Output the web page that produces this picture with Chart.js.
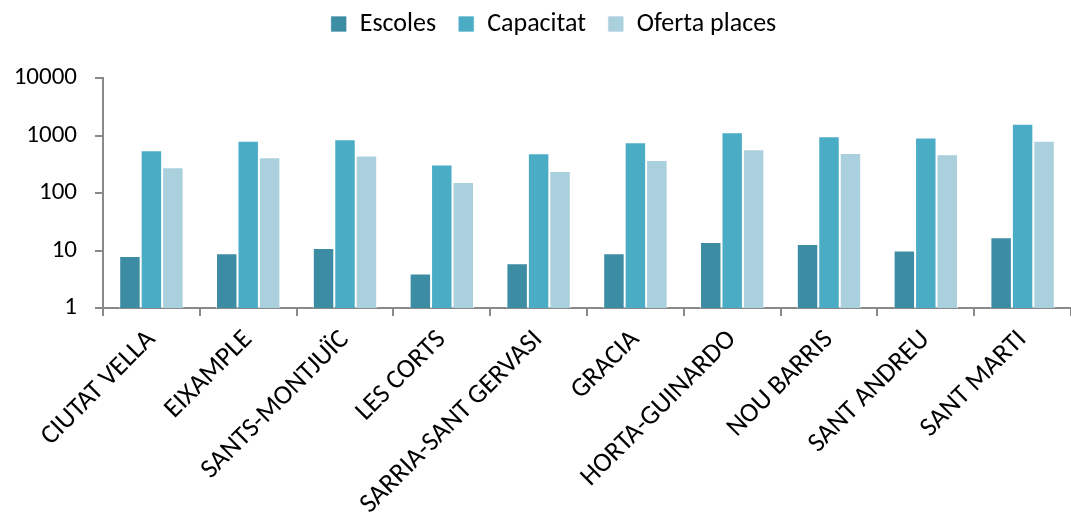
<!DOCTYPE html>
<html>
<head>
<meta charset="utf-8">
<script src="https://cdn.jsdelivr.net/npm/chart.js@4/dist/chart.umd.min.js"></script>
<style>
    html, body { margin: 0; padding: 0; background: #ffffff; overflow: hidden; }
    #wrap { width: 1071px; height: 513px; }
</style>
</head>
<body>
<div id="wrap"><canvas id="chart"></canvas></div>
<script>
// Districts (x axis)
const districts = ["CIUTAT VELLA", "EIXAMPLE", "SANTS-MONTJUÏC", "LES CORTS", "SARRIA-SANT GERVASI",
    "GRACIA", "HORTA-GUINARDO", "NOU BARRIS", "SANT ANDREU", "SANT MARTI"];

// Series values
const escoles = [8, 9, 11, 4, 6, 9, 14, 13, 10, 17];
const capacitat = [555, 807, 864, 312, 492, 766, 1144, 973, 921, 1596];
const ofertaPlaces = [281, 420, 447, 155, 242, 376, 578, 498, 473, 807];

// Log axis ticks
const yTicks = [1, 10, 100, 1000, 10000];

const fontFamily = 'Carlito, Calibri, "Open Sans", sans-serif';
const axisGray = '#898989';

// Fix the legend band height so the plot starts where the reference does
const legendFix = {
    id: 'legendFix',
    beforeLayout(chart) {
        const legend = chart.legend;
        if (legend && !legend._patched) {
            const fit = legend.fit;
            legend.fit = function () {
                fit.call(this);
                this.height = 78;
            };
            legend._patched = true;
        }
    },
    afterLayout(chart) {
        // nudge the legend row up and a bit right
        chart.legend.top -= 11;
        chart.legend.bottom -= 11;
        chart.legend.left += 14;
        chart.legend.right += 14;
    }
};

const data = {
    labels: districts,
    datasets: [
        { label: "Escoles", data: escoles, backgroundColor: "#3c8ca3" },
        { label: "Capacitat", data: capacitat, backgroundColor: "#4bacc6" },
        { label: "Oferta places", data: ofertaPlaces, backgroundColor: "#aacfdd" }
    ].map(d => Object.assign(d, {
        borderColor: "rgba(255,255,255,0.7)",
        borderWidth: 1,
        borderSkipped: "bottom",
        categoryPercentage: 0.665,
        barPercentage: 1.0
    }))
};

new Chart(document.getElementById("chart"), {
    type: "bar",
    data: data,
    plugins: [legendFix],
    options: {
        responsive: true,
        maintainAspectRatio: false,
        animation: false,
        layout: { padding: { top: 0, right: -8, left: 0, bottom: 0 } },
        plugins: {
            tooltip: { enabled: false },
            legend: {
                position: "top",
                labels: {
                    color: "#000000",
                    font: { family: fontFamily, size: 26 },
                    boxWidth: 16,
                    boxHeight: 16,
                    padding: 22
                }
            }
        },
        scales: {
            x: {
                afterFit: (axis) => { axis.height = 205; },
                border: { color: axisGray, width: 2 },
                grid: {
                    drawOnChartArea: false,
                    drawTicks: true,
                    tickLength: 8,
                    color: axisGray,
                    lineWidth: 2
                },
                ticks: {
                    color: "#000000",
                    font: { family: fontFamily, size: 27 },
                    minRotation: 45,
                    maxRotation: 45,
                    autoSkip: false,
                    padding: 8
                }
            },
            y: {
                type: "logarithmic",
                min: 1,
                max: 10000,
                afterFit: (axis) => { axis.width = 103; },
                border: { color: axisGray, width: 2 },
                grid: {
                    drawOnChartArea: false,
                    drawTicks: true,
                    tickLength: 8,
                    color: axisGray,
                    lineWidth: 2
                },
                afterBuildTicks: (axis) => {
                    axis.ticks = yTicks.map(v => ({ value: v }));
                },
                ticks: {
                    color: "#000000",
                    font: { family: fontFamily, size: 25 },
                    padding: 18,
                    callback: (v) => String(v)
                }
            }
        }
    }
});
</script>
</body>
</html>
